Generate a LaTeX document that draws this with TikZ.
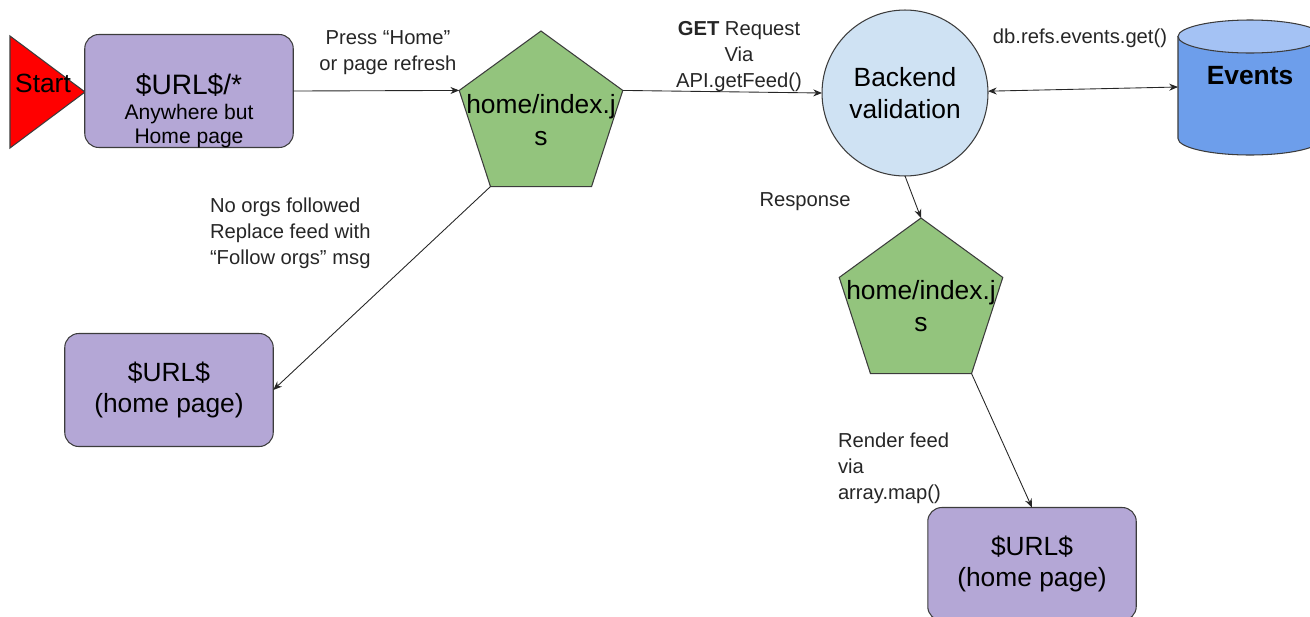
\documentclass[tikz,border=0pt]{standalone}
\usepackage{fontspec}
\setmainfont{Liberation Sans}
\usetikzlibrary{shapes.geometric,arrows.meta}
\definecolor{pagefill}{HTML}{B4A7D6}
\definecolor{jsfill}{HTML}{93C47D}
\definecolor{backfill}{HTML}{CFE2F3}
\definecolor{dbbody}{HTML}{6D9EEB}
\definecolor{dbtop}{HTML}{A4C2F4}
\definecolor{rim}{HTML}{3C3C3C}

\begin{document}
\begin{tikzpicture}[x=0.02cm,y=-0.02cm,
  every node/.style={inner sep=0pt,outer sep=0pt},
  >={Stealth[length=5pt,width=4pt]},
  lbl/.style={font=\fontsize{11.5}{14.8}\selectfont,text=black!85},
  page/.style={draw=rim,line width=0.6pt,fill=pagefill,rounded corners=0.28cm,
    minimum width=4.17cm,minimum height=2.26cm,align=center,font=\fontsize{15}{17.5}\selectfont},
  js/.style={draw=rim,line width=0.6pt,fill=jsfill,regular polygon,regular polygon sides=5,minimum size=3.44cm},
  jstext/.style={align=center,font=\fontsize{15}{18}\selectfont},
  flow/.style={->,draw=black!85,line width=0.5pt}]
  \useasboundingbox (0,0) rectangle (1310,616);
  \clip (0,0) rectangle (1310,616);

  % start marker and first page
  \draw[draw=rim,line width=0.6pt,fill=red] (10,36) -- (85,92) -- (10,148) -- cycle;
  \node[font=\fontsize{15}{15}\selectfont,anchor=base] (start) at (43,92) {Start};
  \node[page] (anywhere) at (189,91) {};
  \node[anchor=north,align=center,font=\fontsize{12}{13.8}\selectfont] (anywheretext) at (189,74)
    {{\fontsize{16}{16}\selectfont\$URL\$/*}\\Anywhere but\\Home page};

  % front end
  \node[js] (index) at (541,117) {};
  \node[jstext] (indextext) at (541,120) {home/index.j\\s};
  \node[js] (render) at (921,304) {};
  \node[jstext] (rendertext) at (921,306) {home/index.j\\s};
  \node[page] (home) at (169,390) {\$URL\$\\(home page)};
  \node[page] (feed) at (1032,564) {\$URL\$\\(home page)};

  % backend and database
  \node[draw=rim,line width=0.6pt,fill=backfill,circle,minimum size=3.32cm,align=center,
    font=\fontsize{15}{18}\selectfont] (backend) at (905,93) {Backend\\validation};
  \draw[draw=rim,line width=0.6pt,fill=dbbody] (1178,36.5) -- (1178,138.5)
    arc[start angle=180,end angle=360,x radius=1.44cm,y radius=0.33cm] -- (1322,36.5) -- cycle;
  \draw[draw=rim,line width=0.6pt,fill=dbtop] (1250,36.5) ellipse[x radius=1.44cm,y radius=0.33cm];
  \node[font=\bfseries\fontsize{15}{15}\selectfont] (events) at (1250,76) {Events};
  \coordinate (eventsin) at (1178,87);

  % labels
  \node[lbl,align=center,anchor=north] (press) at (388,31) {Press “Home”\\or page refresh};
  \node[lbl,align=center,anchor=north] (get) at (739,21) {\textbf{GET} Request\\Via\\API.getFeed()};
  \node[lbl,anchor=base] (dbget) at (1080,43) {db.refs.events.get()};
  \node[lbl,align=left,anchor=north west] (noorgs) at (210,198) {No orgs followed\\Replace feed with\\“Follow orgs” msg};
  \node[lbl,anchor=base] (response) at (805,206) {Response};
  \node[lbl,align=left,anchor=north west] (renderlbl) at (838,433) {Render feed\\via\\array.map()};

  % connectors
  \draw[flow] (anywhere.east) -- (index.corner 2);
  \draw[flow] (index.corner 5) -- (backend.west);
  \draw[flow,<->] (backend) -- (eventsin);
  \draw[flow] (backend.south) -- (render.corner 1);
  \draw[flow] (index.corner 3) -- (home.east);
  \draw[flow] (render.corner 4) -- (feed.north);
\end{tikzpicture}
\end{document}
